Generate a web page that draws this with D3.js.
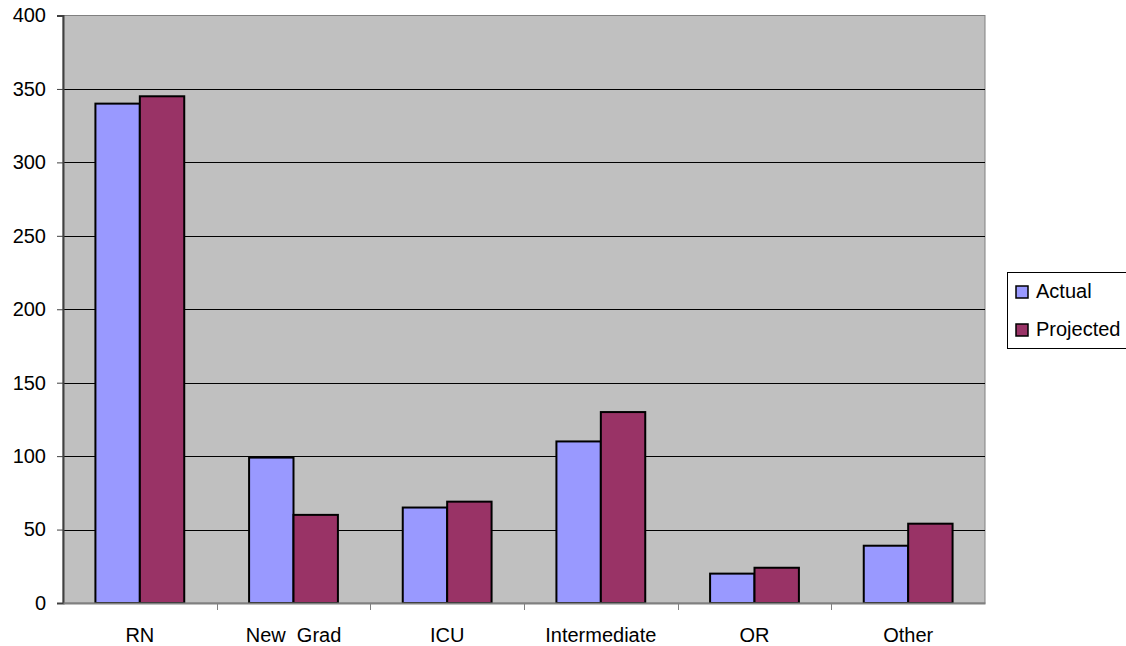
<!DOCTYPE html>
<html>
<head>
<meta charset="utf-8">
<script src="https://cdn.jsdelivr.net/npm/d3@7"></script>
<style>
  html, body { margin: 0; padding: 0; background: #ffffff; }
  svg { display: block; font-family: "Liberation Sans", Arial, sans-serif; }
</style>
</head>
<body>
<svg id="chart" width="1126" height="646"></svg>
<script>
// Staffing counts by category
const categories = ["RN", "New  Grad", "ICU", "Intermediate", "OR", "Other"];
const actual     = [340, 99, 65, 110, 20, 39];
const projected  = [345, 60, 69, 130, 24, 54];
const seriesNames = ["Actual", "Projected"];
const yTicks = [0, 50, 100, 150, 200, 250, 300, 350, 400];

const colors = { Actual: "#9999FF", Projected: "#993366" };

const svg = d3.select("#chart");
const plot = { left: 63, top: 15.5, right: 985, bottom: 603 };

const x = d3.scaleBand()
  .domain(categories)
  .range([plot.left, plot.right])
  .paddingInner(0)
  .paddingOuter(0);

const inner = d3.scaleBand()
  .domain(seriesNames)
  .range([0, x.bandwidth()])
  .paddingInner(0)
  .paddingOuter(0.73);

const y = d3.scaleLinear().domain([0, 400]).range([plot.bottom, plot.top]);

// plot background
svg.append("rect")
  .attr("x", plot.left).attr("y", plot.top)
  .attr("width", plot.right - plot.left)
  .attr("height", plot.bottom - plot.top)
  .attr("fill", "#C0C0C0")
  .attr("stroke", "#808080")
  .attr("stroke-width", 1);

// horizontal gridlines
svg.append("g")
  .selectAll("line")
  .data(yTicks.filter(d => d > 0 && d < 400))
  .join("line")
  .attr("x1", plot.left).attr("x2", plot.right)
  .attr("y1", d => Math.round(y(d)) + 0.5).attr("y2", d => Math.round(y(d)) + 0.5)
  .attr("stroke", "#000")
  .attr("stroke-width", 1);

// bars
const rows = categories.map((c, i) => ({ cat: c, values: [
  { name: "Actual", v: actual[i] },
  { name: "Projected", v: projected[i] }
]}));

const groups = svg.append("g").selectAll("g")
  .data(rows)
  .join("g")
  .attr("transform", d => `translate(${x(d.cat)},0)`);

groups.selectAll("rect")
  .data(d => d.values)
  .join("rect")
  .attr("x", d => inner(d.name))
  .attr("y", d => y(d.v))
  .attr("width", inner.bandwidth())
  .attr("height", d => y(0) - y(d.v))
  .attr("fill", d => colors[d.name])
  .attr("stroke", "#000")
  .attr("stroke-width", 2);

// y axis
const yAxis = d3.axisLeft(y).tickValues(yTicks).tickSize(6).tickPadding(11).tickFormat(d3.format("d"));
const yg = svg.append("g")
  .attr("transform", `translate(${plot.left},0)`)
  .call(yAxis);
yg.select(".domain").attr("stroke", "#404040").attr("stroke-width", 2);
yg.selectAll(".tick line").attr("stroke", "#404040");
yg.selectAll(".tick text").attr("font-size", 20).attr("fill", "#000")
  .attr("font-family", "Liberation Sans, Arial, sans-serif");

// x axis
const xAxis = d3.axisBottom(x).tickSize(0).tickPadding(0);
const xg = svg.append("g")
  .attr("transform", `translate(0,${plot.bottom})`)
  .call(xAxis);
xg.select(".domain").attr("stroke", "#808080").attr("stroke-width", 2);
xg.selectAll(".tick text").attr("font-size", 20).attr("fill", "#000")
  .attr("font-family", "Liberation Sans, Arial, sans-serif")
  .attr("y", 38.5).attr("dy", null)
  .attr("xml:space", "preserve")
  .style("white-space", "pre");

// category separator ticks
svg.append("g").selectAll("line")
  .data(categories.slice(1))
  .join("line")
  .attr("x1", d => Math.round(x(d)) + 0.5).attr("x2", d => Math.round(x(d)) + 0.5)
  .attr("y1", plot.bottom).attr("y2", plot.bottom + 7)
  .attr("stroke", "#808080")
  .attr("stroke-width", 1);

// legend
const legend = svg.append("g").attr("transform", "translate(1007,272)");
legend.append("rect")
  .attr("x", 0.5).attr("y", 0.5)
  .attr("width", 130).attr("height", 76)
  .attr("fill", "#fff")
  .attr("stroke", "#000")
  .attr("stroke-width", 1);
const items = legend.selectAll("g.item")
  .data(seriesNames)
  .join("g")
  .attr("class", "item")
  .attr("transform", (d, i) => `translate(9,${14 + i * 38})`);
items.append("rect")
  .attr("width", 12).attr("height", 12)
  .attr("fill", d => colors[d])
  .attr("stroke", "#000")
  .attr("stroke-width", 1.5);
items.append("text")
  .attr("x", 20).attr("y", 12)
  .attr("font-size", 20)
  .attr("fill", "#000")
  .text(d => d);
</script>
</body>
</html>
